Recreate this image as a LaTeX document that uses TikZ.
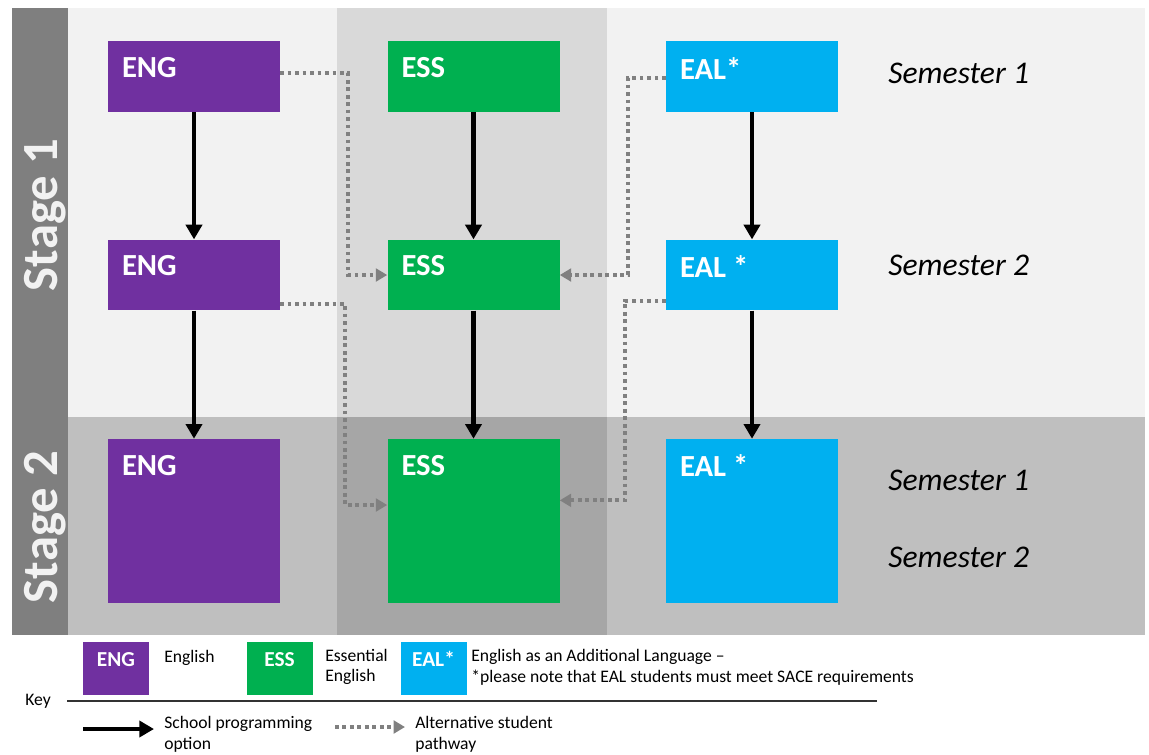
\documentclass[tikz,border=0pt]{standalone}
\usepackage{fontspec}
\setmainfont{Carlito}
\usetikzlibrary{arrows.meta}

\definecolor{engpurple}{HTML}{7030A0}
\definecolor{essgreen}{HTML}{00B050}
\definecolor{ealblue}{HTML}{00B0F0}
\definecolor{bandgray}{HTML}{7F7F7F}
\definecolor{stageone}{HTML}{F2F2F2}
\definecolor{stageonemid}{HTML}{D9D9D9}
\definecolor{stagetwo}{HTML}{BFBFBF}
\definecolor{stagetwomid}{HTML}{A6A6A6}
\definecolor{altgray}{HTML}{808080}

\begin{document}
\begin{tikzpicture}[x=0.75pt,y=-0.75pt,
	every node/.style = {inner sep=0pt},
	course/.style = {rectangle, minimum width=129pt, minimum height=53pt},
	tallcourse/.style = {course, minimum height=123pt},
	keybox/.style = {rectangle, minimum width=49.5pt, minimum height=40pt},
	coursetxt/.style = {text=white, font=\fontsize{23}{26}\selectfont\bfseries},
	keytxt/.style = {text=white, font=\fontsize{16}{19}\selectfont\bfseries},
	semtxt/.style = {anchor=west, font=\fontsize{23.7}{28}\selectfont\itshape},
	stagetxt/.style = {rotate=90, anchor=base, text=stageone, font=\fontsize{38}{42}\selectfont\bfseries},
	legtxt/.style = {anchor=west, align=left, font=\fontsize{13.2}{15.5}\selectfont},
	school/.style = {line width=3.2pt, -{Triangle[length=11pt,width=12pt]}},
	alt/.style = {altgray, line width=3pt, dash pattern=on 2.8pt off 2.8pt, -{Triangle[length=8.5pt,width=9.5pt]}}]

\useasboundingbox (0,0) rectangle (1149,754);

% backgrounds
\fill[stageone] (68,8) rectangle (1145,417);
\fill[stagetwo] (68,417) rectangle (1145,635);
\fill[stageonemid] (337,8) rectangle (607,417);
\fill[stagetwomid] (337,417) rectangle (607,635);
\fill[bandgray] (12,8) rectangle (68,635);

\node[stagetxt] (stage1) at (57,215) {Stage 1};
\node[stagetxt] (stage2) at (57,527) {Stage 2};

% courses
\node[course, fill=engpurple, label={[coursetxt,anchor=north west,xshift=10.5pt,yshift=-12pt]north west:ENG}] (eng1) at (194,76.5) {};
\node[course, fill=engpurple, label={[coursetxt,anchor=north west,xshift=10.5pt,yshift=-12pt]north west:ENG}] (eng2) at (194,275) {};
\node[tallcourse, fill=engpurple, label={[coursetxt,anchor=north west,xshift=10.5pt,yshift=-12pt]north west:ENG}] (eng3) at (194,521) {};

\node[course, fill=essgreen, label={[coursetxt,anchor=north west,xshift=10.5pt,yshift=-12pt]north west:ESS}] (ess1) at (473.5,76.5) {};
\node[course, fill=essgreen, label={[coursetxt,anchor=north west,xshift=10.5pt,yshift=-12pt]north west:ESS}] (ess2) at (473.5,275) {};
\node[tallcourse, fill=essgreen, label={[coursetxt,anchor=north west,xshift=10.5pt,yshift=-12pt]north west:ESS}] (ess3) at (473.5,521) {};

\node[course, fill=ealblue, label={[coursetxt,anchor=north west,xshift=10.5pt,yshift=-12pt]north west:EAL*}] (eal1) at (752,76.5) {};
\node[course, fill=ealblue, label={[coursetxt,anchor=north west,xshift=10.5pt,yshift=-12pt]north west:EAL *}] (eal2) at (752,275) {};
\node[tallcourse, fill=ealblue, label={[coursetxt,anchor=north west,xshift=10.5pt,yshift=-12pt]north west:EAL *}] (eal3) at (752,521) {};

\node[semtxt] (sem1a) at (888,73) {Semester 1};
\node[semtxt] (sem2a) at (888,265) {Semester 2};
\node[semtxt] (sem1b) at (888,480) {Semester 1};
\node[semtxt] (sem2b) at (888,557) {Semester 2};

% school programming
\draw[school] (eng1) -- (eng2);
\draw[school] (eng2) -- (eng3);
\draw[school] (ess1) -- (ess2);
\draw[school] (ess2) -- (ess3);
\draw[school] (eal1) -- (eal2);
\draw[school] (eal2) -- (eal3);

% alternative pathways
\draw[alt] ([yshift=2.5pt]eng1.east) -- ++(68,0) |- (ess2.west);
\draw[alt] ([yshift=5pt]eng2.south east) -- ++(65,0) |- ([yshift=12pt]ess3.west);
\draw[alt] ([yshift=-1pt]eal1.west) -- ++(-38,0) |- (ess2.east);
\draw[alt] ([yshift=7.5pt]eal2.south west) -- ++(-41,0) |- ([yshift=15.5pt]ess3.east);

% key
\node[keybox, fill=engpurple, label={[keytxt,yshift=-19pt]north:ENG}] (keyeng) at (116,668.5) {};
\node[keybox, fill=essgreen, label={[keytxt,yshift=-19pt]north:ESS}] (keyess) at (279.5,668.5) {};
\node[keybox, fill=ealblue, label={[keytxt,yshift=-19pt]north:EAL*}] (keyeal) at (433.5,668.5) {};

\node[legtxt] (engtxt) at (164,658) {English};
\node[legtxt] (esstxt) at (325,667) {Essential\\English};
\node[legtxt] (ealtxt) at (471,667) {English as an Additional Language --\\*please note that EAL students must meet SACE requirements};

\node[legtxt] (keytitle) at (25,701) {Key};
\draw[black!80, line width=1.6pt] (67,701) -- (877,701);

\coordinate (schoolA) at (83,729);
\coordinate (schoolB) at (154,729);
\draw[school] (schoolA) -- (schoolB);
\node[legtxt] (schooltxt) at (164,734) {School programming\\option};

\coordinate (altA) at (335,727);
\coordinate (altB) at (405,727);
\draw[alt] (altA) -- (altB);
\node[legtxt] (alttxt) at (415,734) {Alternative student\\pathway};

\end{tikzpicture}
\end{document}
